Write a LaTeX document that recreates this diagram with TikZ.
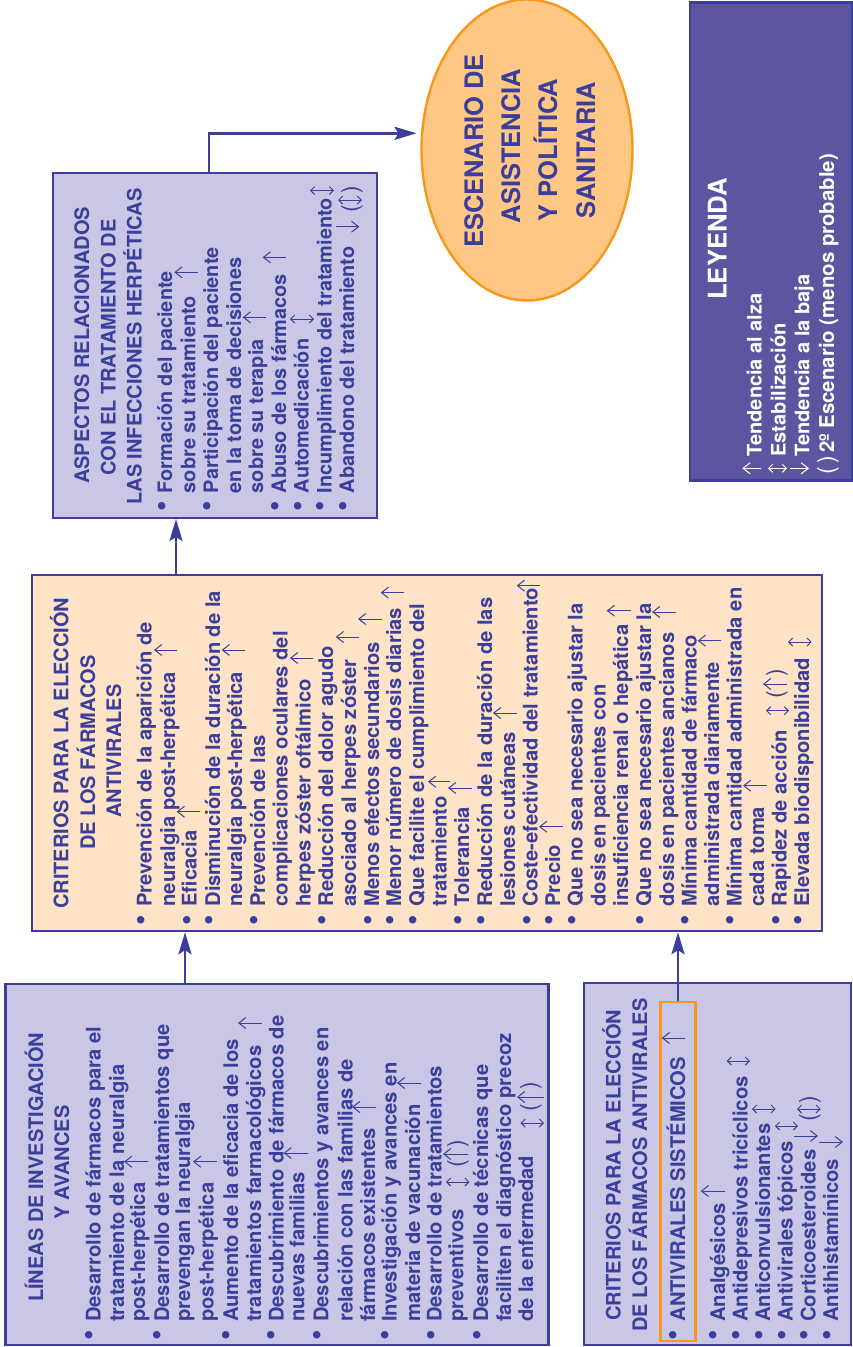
\documentclass[tikz,border=0pt]{standalone}
\usepackage{fontspec}
\setmainfont{TeX Gyre Heros}
\usetikzlibrary{arrows.meta,shapes.geometric}
\definecolor{ink}{HTML}{3B3F9B}
\definecolor{lav}{HTML}{C9C7E5}
\definecolor{peach}{HTML}{FFE3C6}
\definecolor{leg}{HTML}{5B569F}
\definecolor{org}{HTML}{F7981D}
\definecolor{orgfill}{HTML}{FFC784}
\newcounter{ln}
\tikzset{
  panel/.style={draw=ink,line width=2.4pt,inner sep=0pt},
  conn/.style={draw=ink,line width=2.6pt,-{Stealth[length=22pt,width=13pt,inset=4pt]}},
  txt/.style={rotate=90,inner sep=0pt,text=ink,font=\fontsize{20.2}{20.2}\selectfont\bfseries},
  ttl/.style={txt,font=\fontsize{20}{20}\selectfont\bfseries},
  big/.style={txt,font=\fontsize{25.5}{25.5}\selectfont\bfseries},
  lnw/.style={txt,anchor=base west},
  lnas/.style={lnw,font=\fontsize{19.9}{19.9}\selectfont\bfseries},
  lnc/.style={ttl,anchor=base west},
  legt/.style={lnw,text=white,font=\fontsize{20}{20}\selectfont\bfseries},
  mini/.style={draw=ink,line width=1pt},
  upt/.style={mini,-{Straight Barb[length=7pt,width=11pt,line width=1pt]}},
  flt/.style={mini,{Straight Barb[length=4pt,width=8pt,line width=1pt]}-{Straight Barb[length=4pt,width=8pt,line width=1pt]}},
  bul/.style={txt,anchor=center,font=\fontsize{30}{30}\selectfont},
  par/.style={txt,anchor=center,font=\fontsize{23}{23}\selectfont},
}
% one text line: baseline x, start y, text
\newcommand{\tline}[3]{\stepcounter{ln}\node[lnw] (t\theln) at (#1,#2) {#3};}
\newcommand{\aline}[3]{\stepcounter{ln}\node[lnas] (t\theln) at (#1,#2) {#3};}
% heading line
\newcommand{\hdln}[3]{\stepcounter{ln}\node[lnc] (t\theln) at (#1,#2) {#3};}
% bullet: centre x, y
\newcommand{\bult}[2]{\stepcounter{ln}\node[bul] (t\theln) at (#1,#2) {•};}
\newcommand{\aup}[3]{\draw[upt] (#2,#3) -- (#1,#3);}
\newcommand{\adn}[3]{\draw[upt] (#1,#3) -- (#2,#3);}
\newcommand{\afl}[3]{\draw[flt] (#1,#3) -- (#2,#3);}
\newcommand{\prn}[3]{\stepcounter{ln}\node[par] (t\theln) at (#1,#2) {(};\stepcounter{ln}\node[par] (t\theln) at (#1,#3) {)};}
\begin{document}
\begin{tikzpicture}[x=1pt,y=-1pt]
\useasboundingbox (0,0) rectangle (853,1347);
% panels
\node[panel,fill=lav,minimum width=543pt,minimum height=361pt] (lineas) at (277,1164.5) {};
\node[panel,fill=lav,minimum width=267pt,minimum height=362pt] (sist) at (717.5,1164) {};
\node[panel,fill=peach,minimum width=790pt,minimum height=356pt] (crit) at (427,753) {};
\node[panel,fill=lav,minimum width=324pt,minimum height=345pt] (asp) at (215,345.3) {};
\node[panel,fill=leg,minimum width=162pt,minimum height=478pt] (ley) at (771,241.5) {};
\node[ellipse,draw=org,fill=orgfill,line width=2.4pt,inner sep=0pt,minimum width=211pt,minimum height=301pt] (esc) at (527,150) {};
\node[draw=org,line width=2.6pt,inner sep=0pt,minimum width=35pt,minimum height=339pt] (sel) at (678,1171.5) {};
% connectors
\coordinate (c1) at (185,950);
\coordinate (c3) at (176,550);
\coordinate (c4) at (209,300);
\coordinate (c5) at (416.5,133.3);
\draw[conn] (c1 |- lineas.north) -- (c1 |- crit.south);
\draw[conn] (sel.north) -- (sel.north |- crit.south);
\draw[conn] (c3 |- crit.north) -- (c3 |- asp.south);
\draw[conn] (c4 |- asp.north) |- (c5);
% --- escenario
\node[big,anchor=base] (e1) at (483,151) {ESCENARIO DE};
\node[big,anchor=base] (e2) at (520,146) {ASISTENCIA};
\node[big,anchor=base] (e3) at (557,150) {Y POLÍTICA};
\node[big,anchor=base] (e4) at (595,150) {SANITARIA};
% --- lineas
\hdln{43}{1302}{LÍNEAS DE INVESTIGACIÓN}
\hdln{69}{1220}{Y AVANCES}
\bult{92}{1335}\tline{100.5}{1322}{Desarrollo de fármacos para el}
\tline{124}{1322}{tratamiento de la neuralgia}
\tline{145}{1322}{post-herpética}
\bult{160}{1335}\tline{169}{1322}{Desarrollo de tratamientos que}
\tline{190}{1322}{prevengan la neuralgia}
\tline{213.6}{1322}{post-herpética}
\bult{229}{1335}\tline{238}{1322}{Aumento de la eficacia de los}
\tline{261}{1322}{tratamientos farmacológicos}
\bult{274.6}{1335}\tline{283.5}{1322}{Descubrimiento de fármacos de}
\tline{304.4}{1322}{nuevas familias}
\bult{320}{1335}\tline{328.4}{1322}{Descubrimientos y avances en}
\tline{352.5}{1322}{relación con las familias de}
\tline{375}{1322}{fármacos existentes}
\bult{388}{1335}\tline{396.6}{1322}{Investigación y avances en}
\tline{420}{1322}{materia de vacunación}
\bult{434}{1335}\tline{441.5}{1322}{Desarrollo de tratamientos}
\tline{463.4}{1322}{preventivos}
\bult{480}{1335}\tline{488}{1322}{Desarrollo de técnicas que}
\tline{511}{1322}{faciliten el diagnóstico precoz}
\tline{533}{1322}{de la enfermedad}
\aup{124}{148}{1161.7}
\aup{193}{217}{1161.7}
\aup{238}{262}{1023}
\aup{283.6}{308}{1153}
\aup{352}{376}{1107}
\aup{397}{421}{1083}
\afl{446}{469.5}{1182}
\aup{443}{468}{1154}\prn{458}{1164}{1144}
\afl{520.5}{544}{1123}
\aup{517}{544}{1097}\prn{531}{1108}{1086}
% --- sistemicos
\hdln{620.7}{1321}{CRITERIOS PARA LA ELECCIÓN}
\hdln{647}{1331.7}{DE LOS FÁRMACOS ANTIVIRALES}
\bult{676.7}{1335}\tline{685}{1321.7}{ANTIVIRALES SISTÉMICOS}
\bult{716.7}{1335}\tline{725}{1322}{Analgésicos}
\bult{739.3}{1335}\tline{747.7}{1322}{Antidepresivos tricíclicos}
\bult{762}{1335}\tline{770}{1322}{Anticonvulsionantes}
\bult{785}{1335}\tline{792.7}{1322}{Antivirales tópicos}
\bult{807}{1335}\tline{815.7}{1322}{Corticoesteroides}
\bult{830}{1335}\tline{838}{1322}{Antihistamínicos}
\aup{661.7}{685}{1038}
\aup{700.7}{725}{1191}
\afl{726.7}{750}{1061}
\afl{752}{775.7}{1109}
\afl{775}{798}{1126}
\adn{794}{818}{1136}
\afl{797}{820.7}{1109}\prn{810}{1118}{1100}
\adn{819}{843}{1142}
% --- criterios
\hdln{68.3}{909}{CRITERIOS PARA LA ELECCIÓN}
\hdln{95}{850}{DE LOS FÁRMACOS}
\hdln{121}{818}{ANTIVIRALES}
\bult{144.3}{920}\tline{151.7}{906.7}{Prevención de la aparición de}
\tline{175}{906.7}{neuralgia post-herpética}
\bult{190}{920}\tline{196.7}{906.7}{Eficacia}
\bult{212}{920}\tline{220}{906.7}{Disminución de la duración de la}
\tline{242}{906.7}{neuralgia post-herpética}
\bult{257.7}{920}\tline{265}{906.7}{Prevención de las}
\tline{287.7}{906.7}{complicaciones oculares del}
\tline{310.7}{906.7}{herpes zóster oftálmico}
\bult{325.7}{920}\tline{333}{906.7}{Reducción del dolor agudo}
\tline{356}{906.7}{asociado al herpes zóster}
\bult{371}{920}\tline{379}{906.7}{Menos efectos secundarios}
\bult{393.7}{920}\tline{401}{906.7}{Menor número de dosis diarias}
\bult{416}{920}\tline{424}{906.7}{Que facilite el cumplimiento del}
\tline{446.7}{906.7}{tratamiento}
\bult{461.7}{920}\tline{469}{906.7}{Tolerancia}
\bult{484}{920}\tline{492}{906.7}{Reducción de la duración de las}
\tline{515}{906.7}{lesiones cutáneas}
\bult{530}{920}\tline{537.7}{906.7}{Coste-efectividad del tratamiento}
\bult{552}{920}\tline{560}{906.7}{Precio}
\bult{575}{920}\tline{582.7}{906.7}{Que no sea necesario ajustar la}
\tline{605.7}{906.7}{dosis en pacientes con}
\tline{628}{906.7}{insuficiencia renal o hepática}
\bult{643}{920}\tline{651}{906.7}{Que no sea necesario ajustar la}
\tline{674}{906.7}{dosis en pacientes ancianos}
\bult{688}{920}\tline{696.7}{906.7}{Mínima cantidad de fármaco}
\tline{719}{906.7}{administrada diariamente}
\bult{733}{920}\tline{741.7}{906.7}{Mínima cantidad administrada en}
\tline{764}{906.7}{cada toma}
\bult{779}{920}\tline{786.7}{906.7}{Rapidez de acción}
\bult{801.7}{920}\tline{809}{906.7}{Elevada biodisponibilidad}
\aup{154}{177.3}{650}
\aup{176.7}{200}{811.7}
\aup{221.7}{245}{650}
\aup{290}{313}{658}
\aup{335.7}{359}{637}
\aup{358}{381.7}{619}
\aup{380.7}{404}{592.7}
\aup{428}{450}{781.7}
\aup{448}{471.7}{788}
\aup{493}{516.7}{713}
\aup{516.7}{540}{585.7}
\aup{539}{562.7}{826.7}
\aup{606.7}{631}{610.7}
\aup{652}{675.7}{612}
\aup{697.7}{721}{640.7}
\aup{743}{766.7}{785.7}
\afl{766}{789}{710.7}
\aup{763}{786.7}{684}\prn{777}{695}{673}
\afl{788}{811.7}{642}
% --- aspectos
\hdln{89}{484}{ASPECTOS RELACIONADOS}
\hdln{115.7}{476}{CON EL TRATAMIENTO DE}
\hdln{141.7}{505}{LAS INFECCIONES HERPÉTICAS}
\bult{165}{506.7}\aline{172}{493.3}{Formación del paciente}
\aline{195.3}{493.3}{sobre su tratamiento}
\bult{210}{506.7}\aline{218}{493.3}{Participación del paciente}
\aline{241}{493.3}{en la toma de decisiones}
\aline{263}{493.3}{sobre su terapia}
\bult{278}{506.7}\aline{286}{493.3}{Abuso de los fármacos}
\bult{301}{506.7}\aline{308.7}{493.3}{Automedicación}
\bult{323.7}{506.7}\aline{331.7}{493.3}{Incumplimiento del tratamiento}
\bult{346.7}{506.7}\aline{354}{493.3}{Abandono del tratamiento}
\aup{174.3}{197.7}{272.3}
\aup{242.7}{266}{317.3}
\aup{262.7}{286}{257.3}
\afl{290}{314}{319}
\afl{310}{334}{190.5}
\adn{336}{359.3}{226.7}
\afl{338}{362}{200}\prn{352}{209}{190}
% --- leyenda
\node[txt,anchor=base west,text=white,font=\fontsize{25.7}{25.7}\selectfont\bfseries] (l0) at (726.7,300) {LEYENDA};
\node[legt] (l1) at (761.7,456.7) {Tendencia al alza};
\node[legt] (l2) at (785.7,456.7) {Estabilización};
\node[legt] (l3) at (809.3,456.7) {Tendencia a la baja};
\node[par,text=white] (l4a) at (828,471) {(};
\node[par,text=white] (l4b) at (828,460) {)};
\node[legt,font=\fontsize{20.4}{20.4}\selectfont\bfseries] (l4) at (834,453) {2º Escenario (menos probable)};
\begin{scope}[upt/.append style={draw=white},flt/.append style={draw=white}]
\draw[upt] (761,468.3) -- (742.3,468.3);
\draw[flt] (768,468.3) -- (787,468.3);
\draw[upt] (790,468.3) -- (809,468.3);
\end{scope}
\end{tikzpicture}
\end{document}
